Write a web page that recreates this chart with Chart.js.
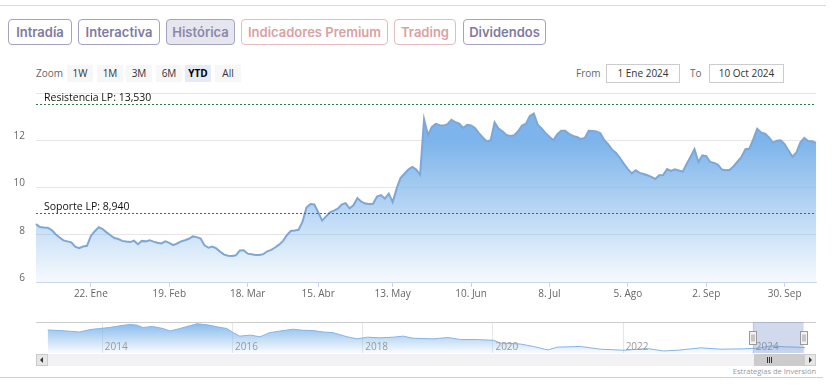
<!DOCTYPE html>
<html>
<head>
<meta charset="utf-8">
<script src="https://cdn.jsdelivr.net/npm/chart.js@4.4.1/dist/chart.umd.min.js"></script>
<style>
  body { margin:0; width:832px; height:386px; position:relative; background:#fff; overflow:hidden; font-family:'Open Sans', sans-serif; }
  .line { position:absolute; height:1px; background:#dadada; }
  .tab { position:absolute; top:19px; height:26px; box-sizing:border-box; border:1px solid #a5a2c0; border-radius:4px;
         font:600 13px Inter, sans-serif; color:#7f7ba0; display:flex; align-items:center; justify-content:center; }
  .tab.on { background:#e6e6ee; color:#8b89ab; }
  .tab.red { border-color:#e3bcbc; color:#d9a1a1; }
  .rb { position:absolute; top:65px; width:26px; height:17px; line-height:17px; text-align:center; background:#f7f7f7;
        font-size:10px; color:#333; }
  .rb.on { background:#e6ebf5; color:#000; font-weight:bold; }
  .lbl { position:absolute; top:65px; line-height:17px; font-size:10px; color:#666; }
  .box { position:absolute; top:64px; height:19px; box-sizing:border-box; border:1px solid #cccccc; font-size:10px; color:#333;
         text-align:center; line-height:17px; }
  canvas { position:absolute; left:0; }
  .sb { position:absolute; top:354px; height:12px; box-sizing:border-box; }
</style>
</head>
<body>
<div class="line" style="left:0;top:5px;width:826px"></div>

<div class="tab" style="left:8px;width:64px">Intradía</div>
<div class="tab" style="left:78px;width:82px">Interactiva</div>
<div class="tab on" style="left:166px;width:69px">Histórica</div>
<div class="tab red" style="left:241px;width:147px">Indicadores Premium</div>
<div class="tab red" style="left:394px;width:62px">Trading</div>
<div class="tab" style="left:463px;width:83px">Dividendos</div>

<div class="lbl" style="left:36px">Zoom</div>
<div class="rb" style="left:67px">1W</div>
<div class="rb" style="left:97px">1M</div>
<div class="rb" style="left:126px">3M</div>
<div class="rb" style="left:156px">6M</div>
<div class="rb on" style="left:185px">YTD</div>
<div class="rb" style="left:215px">All</div>

<div class="lbl" style="left:576px">From</div>
<div class="box" style="left:606px;width:74px">1 Ene 2024</div>
<div class="lbl" style="left:690px">To</div>
<div class="box" style="left:709px;width:75px">10 Oct 2024</div>

<canvas id="mainChart" width="832" height="232" style="top:76px"></canvas>
<canvas id="navChart" width="832" height="31" style="top:322px"></canvas>

<!-- scrollbar -->
<div class="sb" style="left:36px;width:780px;background:#f2f2f2"></div>
<div class="sb" style="left:36px;width:12px;background:#e6e6e6;border:1px solid #cccccc"></div>
<div style="position:absolute;left:40px;top:357px;width:0;height:0;border-top:3px solid transparent;border-bottom:3px solid transparent;border-right:3px solid #333"></div>
<div class="sb" style="left:804px;width:12px;background:#e6e6e6;border:1px solid #cccccc"></div>
<div style="position:absolute;left:809px;top:357px;width:0;height:0;border-top:3px solid transparent;border-bottom:3px solid transparent;border-left:3px solid #333"></div>
<div class="sb" style="left:754px;width:50px;background:#cccccc"></div>
<div style="position:absolute;left:767px;top:357px;width:1px;height:6px;background:#333"></div>
<div style="position:absolute;left:769px;top:357px;width:1px;height:6px;background:#333"></div>
<div style="position:absolute;left:771px;top:357px;width:1px;height:6px;background:#333"></div>

<div style="position:absolute;right:16px;top:366px;font-size:7.5px;color:#999">Estrategias de Inversión</div>
<div class="line" style="left:0;top:377px;width:823px;background:#cfcfcf"></div>

<script>
// price data, one value per trading day, 2 Ene 2024 .. 10 Oct 2024
const prices = [
  8.45, 8.33, 8.31, 8.30, 8.20, 8.02, 7.88, 7.76, 7.72, 7.68,
  7.50, 7.43, 7.50, 7.53, 7.95, 8.15, 8.32, 8.24, 8.10, 7.98,
  7.86, 7.82, 7.74, 7.71, 7.69, 7.75, 7.60, 7.74, 7.72, 7.77,
  7.71, 7.66, 7.63, 7.72, 7.66, 7.56, 7.63, 7.72, 7.77, 7.83,
  7.93, 7.90, 7.84, 7.55, 7.45, 7.50, 7.42, 7.28, 7.16, 7.11,
  7.10, 7.13, 7.33, 7.34, 7.20, 7.17, 7.14, 7.14, 7.18, 7.30,
  7.36, 7.46, 7.58, 7.73, 7.98, 8.16, 8.18, 8.21, 8.55, 9.15,
  9.30, 9.28, 8.95, 8.60, 8.78, 8.95, 9.02, 9.10, 9.28, 9.34,
  9.12, 9.25, 9.55, 9.40, 9.32, 9.30, 9.31, 9.62, 9.68, 9.53,
  9.74, 9.38, 9.95, 10.40, 10.58, 10.76, 10.87, 10.76, 10.54, 12.89,
  12.22, 12.56, 12.69, 12.64, 12.62, 12.68, 12.87, 12.76, 12.70, 12.52,
  12.65, 12.63, 12.52, 12.30, 12.12, 11.95, 12.00, 12.76, 12.50, 12.38,
  12.22, 12.18, 12.21, 12.38, 12.62, 12.70, 13.03, 13.13, 12.66, 12.50,
  12.30, 12.15, 12.00, 12.26, 12.40, 12.40, 12.27, 12.18, 12.14, 12.05,
  12.10, 12.40, 12.39, 12.37, 12.30, 12.00, 11.82, 11.60, 11.46, 11.25,
  11.00, 10.78, 10.60, 10.73, 10.62, 10.57, 10.52, 10.45, 10.36, 10.52,
  10.53, 10.78, 10.70, 10.77, 10.72, 10.67, 11.00, 11.30, 11.62, 11.08,
  11.36, 11.33, 11.08, 11.04, 10.96, 10.76, 10.73, 10.75, 10.90, 11.10,
  11.30, 11.62, 11.65, 12.05, 12.49, 12.33, 12.28, 12.12, 11.90, 11.98,
  12.00, 11.84, 11.56, 11.30, 11.48, 11.90, 12.10, 11.97, 11.96, 11.89
];

// market closed days (no data point)
const holidays = ['2024-01-01', '2024-03-29', '2024-04-01', '2024-05-01'];
const monthNames = ['Ene','Feb','Mar','Abr','May','Jun','Jul','Ago','Sep','Oct','Nov','Dic'];
const tickDates = ['2024-01-22','2024-02-19','2024-03-18','2024-04-15','2024-05-13',
                   '2024-06-10','2024-07-08','2024-08-05','2024-09-02','2024-09-30'];
const yTicks = [6, 8, 10, 12, 14];

// support / resistance levels
const levelNames = ['Resistencia LP', 'Soporte LP'];
const levelValues = [13.53, 8.94];
const levelColors = ['#2f7a3c', '#b0344f'];

// navigator (full history), decimal year -> price
const navYears = [2013.17, 2013.46, 2013.66, 2013.82, 2013.97, 2014.12, 2014.28, 2014.43, 2014.54, 2014.63,
  2014.78, 2014.94, 2015.05, 2015.20, 2015.35, 2015.46, 2015.62, 2015.77, 2015.92, 2016.02,
  2016.12, 2016.28, 2016.43, 2016.58, 2016.74, 2016.94, 2017.09, 2017.25, 2017.40, 2017.55,
  2017.77, 2017.92, 2018.08, 2018.28, 2018.48, 2018.63, 2018.78, 2019.09, 2019.32, 2019.51,
  2019.77, 2020.02, 2020.12, 2020.43, 2020.63, 2020.85, 2021.00, 2021.35, 2021.66, 2022.02,
  2022.38, 2022.63, 2022.85, 2023.20, 2023.51, 2023.86, 2024.08, 2024.28, 2024.48, 2024.69, 2024.80];
const navValues = [49.1, 46.9, 44.7, 49.9, 52.1, 54.3, 57.9, 60.9, 59.4, 54.3,
  56.5, 52.1, 46.9, 52.1, 57.9, 62.3, 60.1, 55.7, 52.1, 43.3,
  35.9, 38.1, 34.5, 43.3, 46.9, 50.6, 48.4, 47.7, 44.7, 43.3,
  34.5, 30.1, 33.7, 32.3, 33.7, 35.9, 31.5, 30.1, 33.0, 28.6,
  28.6, 27.1, 21.3, 19.1, 13.9, 6.6, 12.5, 13.9, 8.1, 5.9,
  9.5, 4.4, 5.9, 11.0, 8.1, 8.8, 10.3, 15.4, 13.2, 12.5, 11.7];
const navYearTicks = [2014, 2016, 2018, 2020, 2022, 2024];
const navRange = [2024.0, 2024.78];

// trading day categories
const days = [];
for (let t = Date.UTC(2024, 0, 1); t <= Date.UTC(2024, 9, 10); t += 86400000) {
  const d = new Date(t);
  const iso = d.toISOString().slice(0, 10);
  if (d.getUTCDay() === 0 || d.getUTCDay() === 6 || holidays.includes(iso)) continue;
  days.push(iso);
}

function fmtDay(iso) {
  const d = new Date(iso + 'T00:00:00Z');
  return d.getUTCDate() + '. ' + monthNames[d.getUTCMonth()];
}

Chart.defaults.font.family = "'Open Sans', sans-serif";
Chart.defaults.font.size = 10;
Chart.defaults.color = '#666';

// dashed level lines with label
const levelsPlugin = {
  id: 'levels',
  afterDatasetsDraw(chart) {
    const { ctx, chartArea, scales: { y } } = chart;
    ctx.save();
    levelValues.forEach((v, i) => {
      const py = Math.round(y.getPixelForValue(v)) + 0.5;
      ctx.strokeStyle = levelColors[i];
      ctx.lineWidth = 1;
      ctx.setLineDash([2, 2]);
      ctx.beginPath();
      ctx.moveTo(chartArea.left, py);
      ctx.lineTo(chartArea.right, py);
      ctx.stroke();
      ctx.setLineDash([]);
      ctx.fillStyle = '#111';
      ctx.font = "10.5px 'Open Sans', sans-serif";
      ctx.textBaseline = 'alphabetic';
      ctx.fillText(levelNames[i] + ': ' + v.toFixed(3).replace('.', ','), chartArea.left + 8, py - 3.5);
    });
    ctx.restore();
  }
};

new Chart(document.getElementById('mainChart'), {
  type: 'line',
  data: {
    labels: days,
    datasets: [{
      data: prices,
      borderColor: '#7ea7d6',
      borderWidth: 2,
      pointRadius: 0,
      tension: 0,
      fill: 'start',
      backgroundColor: (c) => {
        const area = c.chart.chartArea;
        if (!area) return 'rgba(124,180,235,0.5)';
        const g = c.chart.ctx.createLinearGradient(0, area.top, 0, area.bottom);
        g.addColorStop(0, 'rgba(124,180,235,1)');
        g.addColorStop(0.25, 'rgba(124,180,235,1)');
        g.addColorStop(1, 'rgba(124,180,235,0.07)');
        return g;
      }
    }]
  },
  options: {
    responsive: false,
    animation: false,
    layout: { padding: { top: 6, right: 16, left: 0, bottom: 0 } },
    plugins: { legend: { display: false }, tooltip: { enabled: false } },
    scales: {
      x: {
        type: 'category',
        offset: false,
        afterBuildTicks: (axis) => {
          axis.ticks = tickDates.map(d => ({ value: days.indexOf(d) }));
        },
        afterFit: (s) => { s.height = 26; },
        grid: { drawOnChartArea: false, drawTicks: true, tickLength: 5, color: '#ccd6eb', offset: false },
        border: { color: '#ccd6eb' },
        ticks: {
          autoSkip: false, maxRotation: 0, padding: 1,
          callback: function (v) { return fmtDay(this.getLabelForValue(v)); }
        }
      },
      y: {
        min: yTicks[0],
        max: yTicks[yTicks.length - 1],
        afterBuildTicks: (axis) => { axis.ticks = yTicks.map(v => ({ value: v })); },
        afterFit: (s) => { s.width = 36; },
        grid: { color: (c) => c.tick && c.tick.value === 6 ? '#ccd6eb' : '#e6e6e6', drawTicks: false },
        border: { display: false },
        ticks: { padding: 11, labelOffset: -4, callback: (v) => v === 14 ? '' : v }
      }
    }
  },
  plugins: [levelsPlugin]
});

// navigator: year grid, labels, selected range mask
const navPlugin = {
  id: 'navDecor',
  beforeDatasetsDraw(chart) {
    const { ctx, scales: { x } } = chart;
    ctx.save();
    ctx.strokeStyle = '#e6e6e6';
    ctx.lineWidth = 1;
    navYearTicks.forEach(yr => {
      const px = Math.round(x.getPixelForValue(yr)) + 0.5;
      ctx.beginPath();
      ctx.moveTo(px, 0);
      ctx.lineTo(px, chart.height);
      ctx.stroke();
    });
    ctx.restore();
  },
  afterDatasetsDraw(chart) {
    const { ctx, chartArea, scales: { x } } = chart;
    ctx.save();
    ctx.fillStyle = '#999';
    ctx.font = "10px 'Open Sans', sans-serif";
    ctx.textBaseline = 'middle';
    navYearTicks.forEach(yr => {
      ctx.fillText(String(yr), x.getPixelForValue(yr) + 3, 25.5);
    });
    // outline
    ctx.strokeStyle = '#cccccc';
    ctx.beginPath();
    ctx.moveTo(chartArea.left, 0.5);
    ctx.lineTo(chartArea.right, 0.5);
    ctx.stroke();
    // mask
    const x0 = x.getPixelForValue(navRange[0]);
    const x1 = x.getPixelForValue(navRange[1]);
    ctx.fillStyle = 'rgba(102,133,194,0.3)';
    ctx.fillRect(x0, 0, x1 - x0, chart.height);
    // handles
    [x0, x1].forEach(hx => {
      const l = Math.round(hx) - 3.5;
      ctx.fillStyle = '#f2f2f2';
      ctx.strokeStyle = '#999';
      ctx.fillRect(l, 9.5, 7, 13);
      ctx.strokeRect(l, 9.5, 7, 13);
      ctx.beginPath();
      ctx.moveTo(l + 2.5, 12.5); ctx.lineTo(l + 2.5, 19.5);
      ctx.moveTo(l + 4.5, 12.5); ctx.lineTo(l + 4.5, 19.5);
      ctx.stroke();
    });
    ctx.restore();
  }
};

new Chart(document.getElementById('navChart'), {
  type: 'line',
  data: {
    datasets: [{
      data: navYears.map((yr, i) => ({ x: yr, y: navValues[i] })),
      borderColor: '#86b4e4',
      borderWidth: 1,
      pointRadius: 0,
      tension: 0,
      fill: 'start',
      backgroundColor: (c) => {
        const area = c.chart.chartArea;
        if (!area) return 'rgba(124,180,235,0.4)';
        const g = c.chart.ctx.createLinearGradient(0, area.top, 0, area.bottom);
        g.addColorStop(0, 'rgba(124,180,235,0.95)');
        g.addColorStop(1, 'rgba(124,180,235,0.05)');
        return g;
      }
    }]
  },
  options: {
    responsive: false,
    animation: false,
    layout: { padding: { left: 36, right: 16, top: 0, bottom: 0 } },
    plugins: { legend: { display: false }, tooltip: { enabled: false } },
    scales: {
      x: { type: 'linear', min: 2012.99, max: 2024.97, display: false },
      y: { min: 0, max: 66, display: false }
    }
  },
  plugins: [navPlugin]
});
</script>
</body>
</html>
